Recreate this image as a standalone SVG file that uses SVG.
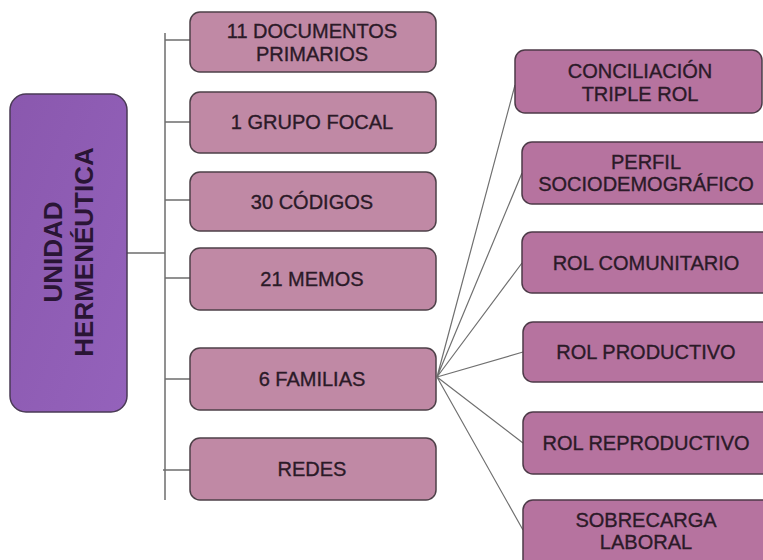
<svg xmlns="http://www.w3.org/2000/svg" width="763" height="560" viewBox="0 0 763 560">
<defs>
<linearGradient id="gPurple" x1="0" y1="0" x2="1" y2="1">
<stop offset="0" stop-color="#8a58ae"/>
<stop offset="1" stop-color="#9462bb"/>
</linearGradient>
</defs>
<style>
.bg{fill:#ffffff}
.main{fill:url(#gPurple);stroke:#4a3a55;stroke-width:1.5}
.mid{fill:#c089a5;stroke:#4d4048;stroke-width:1.5}
.right{fill:#b6739f;stroke:#4d3a48;stroke-width:1.5}
.t{font-family:"Liberation Sans",Arial,sans-serif;font-size:20px;fill:#2b1a28;stroke:#2b1a28;stroke-width:0.35;text-anchor:middle}
.tb{font-family:"Liberation Sans",Arial,sans-serif;font-size:26px;font-weight:bold;fill:#2a1535;text-anchor:middle}
.ln{stroke:#6e6e6e;stroke-width:1.5;fill:none}
.fan{stroke:#707070;stroke-width:1.2;fill:none}
</style>
<rect class="bg" x="0" y="0" width="763" height="560"/>
<g id="connectors">
<path class="ln" d="M127 253 H165 M165 33 V500"/>
<path class="ln" d="M165 40 H190 M165 122 H190 M165 200 H190 M165 278 H190 M165 379 H190 M163 470 H190"/>
<path class="fan" d="M437 377 L515 85 M437 377 L522 173 M437 377 L522 263 M437 377 L523 352 M437 377 L523 443 M437 377 L523 530"/>
</g>
<g id="node-unidad">
<rect class="main" x="10" y="94" width="117" height="318" rx="16"/>
<text class="tb" transform="translate(62 252) rotate(-90)">UNIDAD</text>
<text class="tb" transform="translate(93 252) rotate(-90)">HERMENÉUTICA</text>
</g>
<g id="node-documentos">
<rect class="mid" x="190" y="12" width="246" height="60" rx="10"/>
<text class="t" x="312" y="38">11 DOCUMENTOS</text>
<text class="t" x="312" y="60.5">PRIMARIOS</text>
</g>
<g id="node-grupo">
<rect class="mid" x="190" y="92" width="246" height="61" rx="10"/>
<text class="t" x="312" y="129">1 GRUPO FOCAL</text>
</g>
<g id="node-codigos">
<rect class="mid" x="190" y="172" width="246" height="59" rx="10"/>
<text class="t" x="312" y="208.5">30 CÓDIGOS</text>
</g>
<g id="node-memos">
<rect class="mid" x="190" y="248" width="246" height="62" rx="10"/>
<text class="t" x="312" y="286">21 MEMOS</text>
</g>
<g id="node-familias">
<rect class="mid" x="190" y="348" width="246" height="62" rx="10"/>
<text class="t" x="312" y="386">6 FAMILIAS</text>
</g>
<g id="node-redes">
<rect class="mid" x="190" y="438" width="246" height="62" rx="10"/>
<text class="t" x="312" y="476">REDES</text>
</g>
<g id="node-conciliacion">
<rect class="right" x="515" y="50" width="247" height="63" rx="10"/>
<text class="t" x="640" y="78">CONCILIACIÓN</text>
<text class="t" x="640" y="100.5">TRIPLE ROL</text>
</g>
<g id="node-perfil">
<rect class="right" x="522" y="142" width="250" height="62" rx="10"/>
<text class="t" x="646" y="168.5">PERFIL</text>
<text class="t" x="646" y="191">SOCIODEMOGRÁFICO</text>
</g>
<g id="node-comunitario">
<rect class="right" x="522" y="232" width="250" height="61" rx="10"/>
<text class="t" x="646" y="269.5">ROL COMUNITARIO</text>
</g>
<g id="node-productivo">
<rect class="right" x="523" y="322" width="250" height="60" rx="10"/>
<text class="t" x="646" y="359">ROL PRODUCTIVO</text>
</g>
<g id="node-reproductivo">
<rect class="right" x="523" y="412" width="250" height="62" rx="10"/>
<text class="t" x="646" y="450">ROL REPRODUCTIVO</text>
</g>
<g id="node-sobrecarga">
<rect class="right" x="523" y="500" width="250" height="70" rx="10"/>
<text class="t" x="646" y="526.5">SOBRECARGA</text>
<text class="t" x="646" y="549">LABORAL</text>
</g>
</svg>
